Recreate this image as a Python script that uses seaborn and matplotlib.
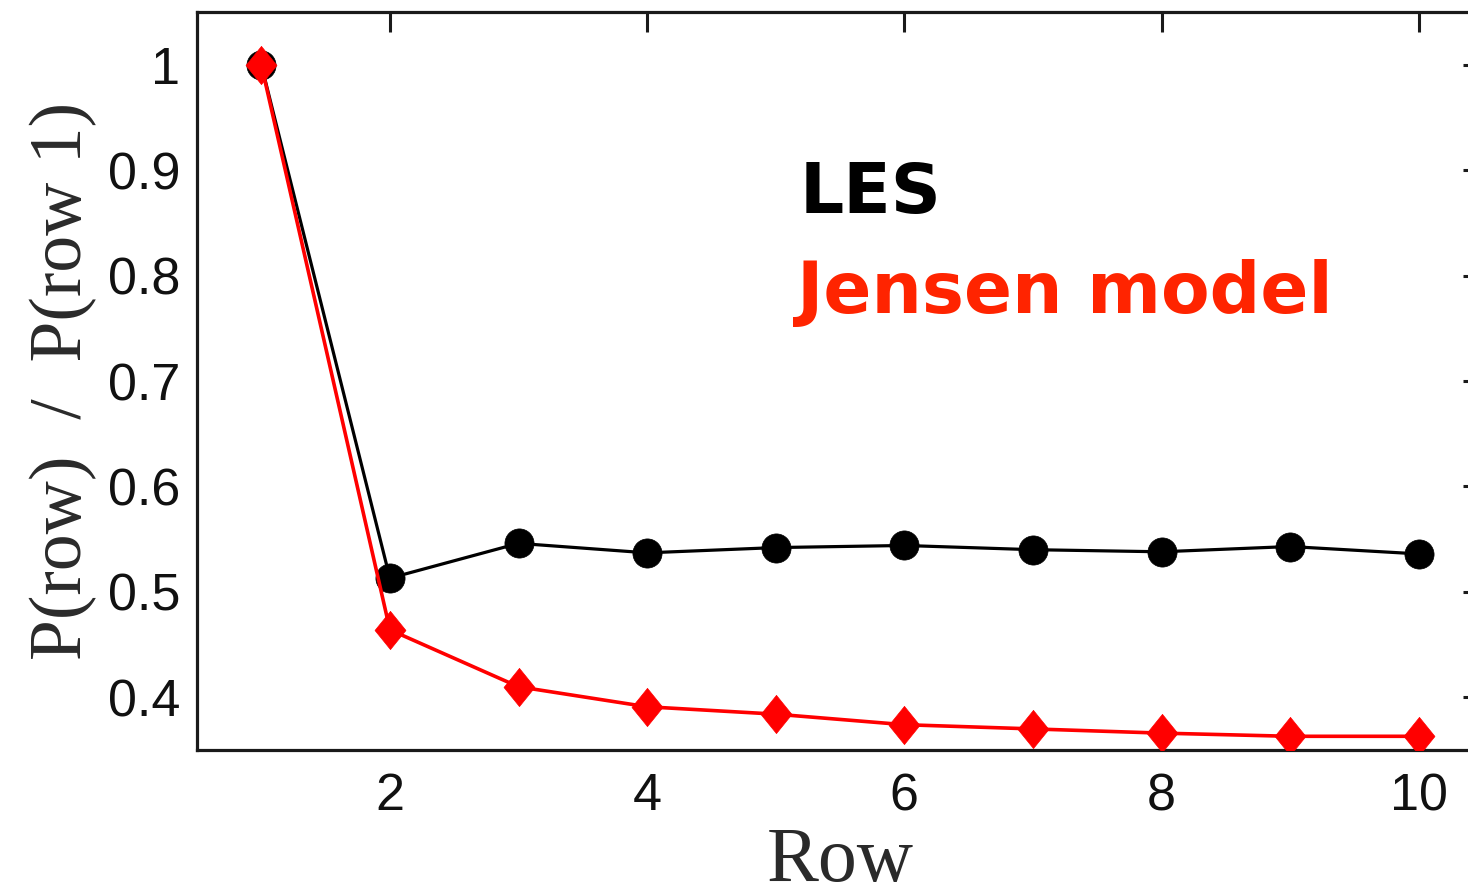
import matplotlib
matplotlib.use("Agg")
import matplotlib.pyplot as plt
import seaborn as sns
import pandas as pd

rows = [1, 2, 3, 4, 5, 6, 7, 8, 9, 10]
les = [1.0, 0.513, 0.546, 0.537, 0.542, 0.544, 0.540, 0.538, 0.543, 0.536]
jensen = [1.0, 0.464, 0.410, 0.391, 0.384, 0.374, 0.370, 0.366, 0.363, 0.363]

x_ticks = [2, 4, 6, 8, 10]
x_ticklabels = ["2", "4", "6", "8", "10"]
y_ticks = [0.4, 0.5, 0.6, 0.7, 0.8, 0.9, 1.0]
y_ticklabels = ["0.4", "0.5", "0.6", "0.7", "0.8", "0.9", "1"]

series_names = ["LES", "Jensen model"]

sns.set_theme(style="white")

fig = plt.figure(figsize=(14.68, 8.96), dpi=100)
ax = fig.add_axes([197 / 1468, 1 - 750 / 896, (1483 - 197) / 1468, (750 - 12) / 896])

df_les = pd.DataFrame({"Row": rows, "val": les})
df_jen = pd.DataFrame({"Row": rows, "val": jensen})

sns.lineplot(data=df_les, x="Row", y="val", ax=ax, color="black", linewidth=2.3,
             marker="o", markersize=21, markeredgecolor="black", markeredgewidth=0.5,
             legend=False, zorder=3)
diamond = [(0, 1), (0.81, 0), (0, -1), (-0.81, 0), (0, 1)]
sns.lineplot(data=df_jen, x="Row", y="val", ax=ax, color="#ff0000", linewidth=2.6,
             marker=diamond, markersize=27.5, markeredgecolor="#ff0000", markeredgewidth=0.5,
             legend=False, zorder=4)

ax.set_xlim(0.5, 10.5)
ax.set_ylim(0.35, 1.05)
ax.set_xticks(x_ticks)
ax.set_xticklabels(x_ticklabels)
ax.set_yticks(y_ticks)
ax.set_yticklabels(y_ticklabels)

for lab in ax.get_xticklabels() + ax.get_yticklabels():
    lab.set_fontfamily("Liberation Sans")
    lab.set_fontsize(37.5)
    lab.set_color("#111111")

ax.tick_params(axis="y", which="major", pad=12)
ax.tick_params(axis="x", which="major", pad=16)
ax.tick_params(axis="both", which="major", direction="in", length=14.5, width=2.2,
               color="#1a1a1a", top=True, right=True)

for sp in ax.spines.values():
    sp.set_visible(True)
    sp.set_linewidth(2.3)
    sp.set_color("#1a1a1a")

ax.set_xlabel("Row", fontfamily="Liberation Serif", fontsize=56, color="#2a2a2a", labelpad=4)
ax.set_ylabel("P(row)  /  P(row 1)", fontfamily="Liberation Serif", fontsize=53,
              color="#2a2a2a", labelpad=8)

fig.text(800 / 1468, 1 - 213 / 896, series_names[0], fontfamily="DejaVu Sans",
         fontweight="bold", fontsize=50, color="black", ha="left", va="baseline")
fig.text(797 / 1468, 1 - 313 / 896, series_names[1], fontfamily="DejaVu Sans",
         fontweight="bold", fontsize=51, color="#ff2400", ha="left", va="baseline")

fig.savefig("out.png", dpi=100, facecolor="white")
